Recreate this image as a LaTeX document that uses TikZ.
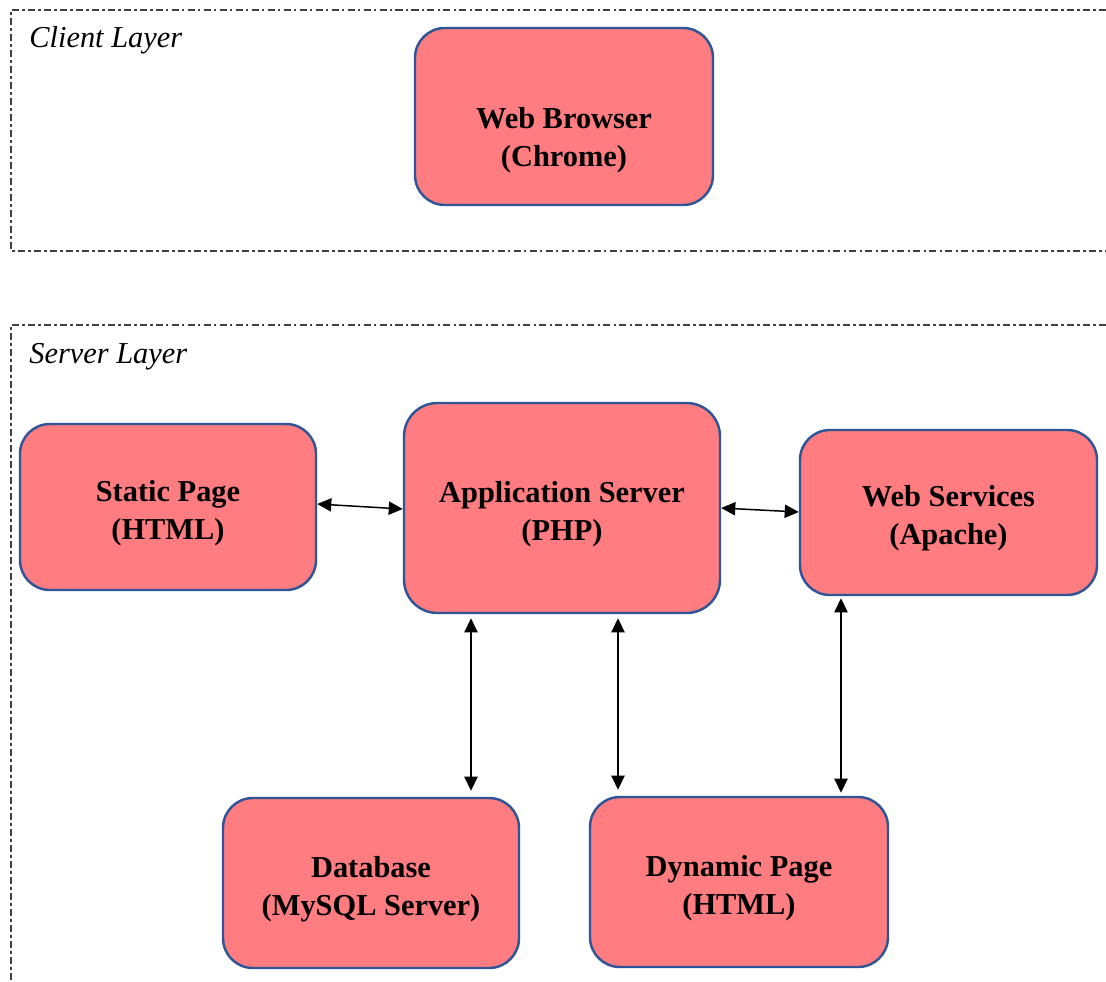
\documentclass[tikz,border=0pt]{standalone}
\usepackage{fontspec}
\setmainfont{Liberation Serif}
\usetikzlibrary{calc,arrows.meta}
\definecolor{boxfill}{HTML}{FF7C80}
\definecolor{boxline}{HTML}{2F5597}
\definecolor{layerline}{HTML}{404040}
\tikzset{
  box/.style={draw=boxline, fill=boxfill, line width=1.4pt, rounded corners=17pt, inner sep=0pt},
  boxtext/.style={align=center, inner sep=0pt, yshift=-3.4pt, font=\fontsize{17.3}{21.8}\selectfont\bfseries},
  layer/.style={draw=layerline, line width=0.6pt, dash pattern=on 4pt off 1.8pt on 1.5pt off 1.8pt},
  layerlabel/.style={anchor=west, inner sep=0pt, font=\fontsize{17.3}{21}\selectfont\itshape},
  arr/.style={{Triangle[length=8pt,width=7.5pt]}-{Triangle[length=8pt,width=7.5pt]}, line width=0.85pt, black}
}
\begin{document}
\begin{tikzpicture}[x=0.02cm,y=-0.02cm]
\useasboundingbox (0,0) rectangle (1106,981);
% layers
\draw[layer] (1106,10) -- (11,10) -- (11,251) -- (1106,251);
\draw[layer] (1106,325) -- (11,325) -- (11,981);
\node[layerlabel] (clientlbl) at (29,40) {Client Layer};
\node[layerlabel] (serverlbl) at (29,357) {Server Layer};
% boxes
\node[box, minimum width=298*0.02cm, minimum height=177*0.02cm,
  label={[boxtext, yshift=-10pt]center:{Web Browser\\(Chrome)}}] (browser) at (564,116.5) {};
\node[box, minimum width=296*0.02cm, minimum height=166*0.02cm,
  label={[boxtext]center:{Static Page\\(HTML)}}] (static) at (168,507) {};
\node[box, minimum width=316*0.02cm, minimum height=210*0.02cm, rounded corners=19pt,
  label={[boxtext]center:{Application Server\\(PHP)}}] (app) at (562,508) {};
\node[box, minimum width=297*0.02cm, minimum height=165*0.02cm,
  label={[boxtext]center:{Web Services\\(Apache)}}] (ws) at (948.5,512.5) {};
\node[box, minimum width=296*0.02cm, minimum height=170*0.02cm,
  label={[boxtext]center:{Database\\(MySQL Server)}}] (db) at (371,883) {};
\node[box, minimum width=298*0.02cm, minimum height=170*0.02cm,
  label={[boxtext]center:{Dynamic Page\\(HTML)}}] (dyn) at (739,882) {};
% connectors
\draw[arr] ($(static.east)+(0,-3)$) -- ($(app.west)+(0,1)$);
\draw[arr] (app.east) -- ($(ws.west)+(0,-0.5)$);
\draw[arr] ($(app.south)+(-91,4)$) -- ($(db.north)+(100,-6)$);
\draw[arr] ($(app.south)+(56,4)$) -- ($(dyn.north)+(-121,-6)$);
\draw[arr] ($(ws.south)+(-107.5,2)$) -- ($(dyn.north)+(102,-3)$);
\end{tikzpicture}
\end{document}
